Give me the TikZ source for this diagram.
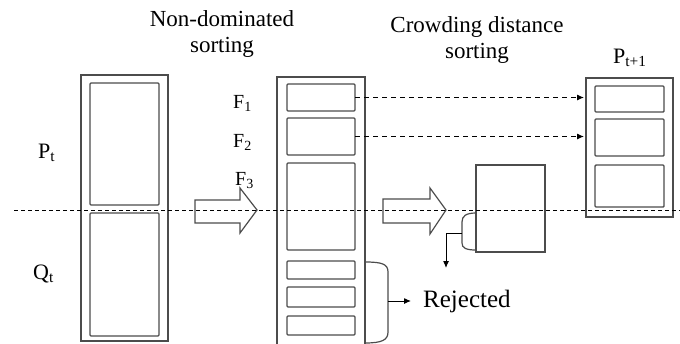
\documentclass[tikz,border=0pt]{standalone}
\usepackage{fontspec}
\setmainfont{Liberation Serif}
\usetikzlibrary{arrows.meta}
\newcommand\bx[6]{\node[#2, minimum width={(#5-#3)*1pt}, minimum height={(#6-#4)*1pt}] (#1) at (#3,#4) {};}
\begin{document}
\begin{tikzpicture}[x=1pt,y=-1pt,
  frame/.style={draw=black!70, line width=1.4pt, inner sep=0pt, outer sep=0pt, anchor=north west},
  cell/.style={frame, rounded corners=1pt},
  plain/.style={draw=black!70, line width=1.2pt, inner sep=0pt, outer sep=0pt, anchor=north west},
  lbl/.style={inner sep=0pt, anchor=base west, font=\fontsize{22}{25}\selectfont},
  head/.style={inner sep=0pt, align=center, anchor=base, font=\fontsize{23}{25.5}\selectfont},
  dline/.style={dash pattern=on 4pt off 3pt, line width=1pt},
  darrow/.style={dash pattern=on 5pt off 4pt, line width=1pt, -{Latex[length=7pt,width=6pt]}, shorten >=2pt},
  sarrow/.style={line width=1pt, -{Latex[length=7pt,width=6pt]}},
  bracket/.style={draw=black!70, line width=1.2pt},
  barrow/.style={draw=black!70, line width=1.2pt, line join=miter}]
\useasboundingbox (0,0) rectangle (680,343);
% first column
\bx{PQo}{frame}{81}{75}{168}{341}
\bx{Pin}{cell}{90}{83}{159}{205}
\bx{Qin}{cell}{90}{213}{159}{336}
% middle column
\bx{Mo}{frame}{277}{77}{365}{346}
\bx{F1}{cell}{287}{84}{355}{111}
\bx{F2}{cell}{287}{118}{355}{155}
\bx{F3}{cell}{287}{163}{355}{250}
\bx{R1}{cell}{287}{261}{355}{279}
\bx{R2}{cell}{287}{287}{355}{307}
\bx{R3}{cell}{287}{316}{355}{335}
% crowding box
\bx{cb}{plain}{476}{165}{545}{252}
% next population
\bx{No}{frame}{586}{78}{673}{217}
\bx{N1}{cell}{595}{86}{664}{112}
\bx{N2}{cell}{595}{119}{664}{156}
\bx{N3}{cell}{595}{165}{664}{207}
% labels
\node[head] (h1) at (222,52) {Non-dominated\\sorting};
\node[head] (h2) at (477,58) {Crowding distance\\sorting};
\node[lbl] (Pt) at (38,158) {P\textsubscript{t}};
\node[lbl] (Qt) at (33,279) {Q\textsubscript{t}};
\node[lbl, font=\fontsize{20}{24}\selectfont] (lF1) at (233,108) {F\textsubscript{1}};
\node[lbl, font=\fontsize{20}{24}\selectfont] (lF2) at (233,147) {F\textsubscript{2}};
\node[lbl, font=\fontsize{20}{24}\selectfont] (lF3) at (235,185) {F\textsubscript{3}};
\node[lbl] (Pn) at (613,63) {P\textsubscript{t+1}};
\node[lbl, font=\fontsize{25}{28}\selectfont] (rej) at (423,307) {Rejected};
% block arrows
\draw[barrow] (195,200) -- (240,200) -- (240,188) -- (257,210) -- (240,233) -- (240,223) -- (195,223) -- cycle;
\draw[barrow] (383,199) -- (430,199) -- (430,188) -- (446,210) -- (430,234) -- (430,223) -- (383,223) -- cycle;
% dashed arrows
\draw[darrow] (F1.east) -- (F1.east -| No.west);
\draw[darrow] (F2.east) -- (F2.east -| No.west);
% bracket at crowding box
\coordinate (c1) at (476,213);
\coordinate (c2) at (476,250);
\coordinate (b1) at (462,233);
\coordinate (drop) at (446,268);
\draw[bracket] (c1) .. controls (466,213) and (462,216) .. (462,222) -- (462,243) .. controls (462,248) and (466,250) .. (c2);
\draw[sarrow] (b1) -| (drop);
% rejected bracket
\coordinate (r1) at (365,262);
\coordinate (r2) at (365,343);
\coordinate (b2) at (388,301);
\draw[bracket] (r1) .. controls (382,262) and (388,264) .. (388,272) -- (388,332) .. controls (388,340) and (382,343) .. (r2);
\draw[sarrow, shorten >=12pt] (b2) -- (b2 -| rej.west);
% separating line
\coordinate (dl) at (14,210);
\coordinate (dr) at (680,210);
\draw[dline] (dl) -- (dr);
\end{tikzpicture}
\end{document}
